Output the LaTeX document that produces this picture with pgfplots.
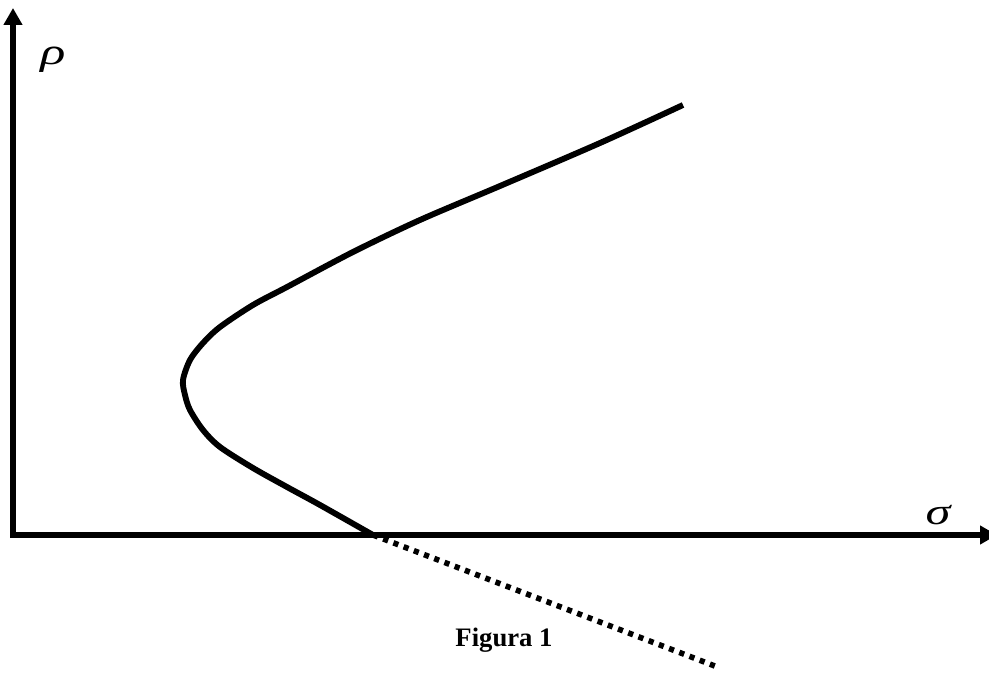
\documentclass[border=0pt]{standalone}
\usepackage{fontspec}
\setmainfont{Liberation Serif}
\usepackage{graphicx}
\usepackage{pgfplots}
\pgfplotsset{compat=1.18}
\usetikzlibrary{arrows.meta}

% upper and lower branch of the curve, rho against sigma
\pgfplotstableread{
x y
683 570
600 532
500 489
420 455
353 423
287 388
253 370
220 348
203 332
190 315
183 295
185 280
190 265
203 245
220 228
253 207
287 188
320 170
373 140
}\branch

\begin{document}
\begin{tikzpicture}
\begin{axis}[
  anchor=south west, at={(0,0)},
  scale only axis,
  width=741.75pt, height=506.25pt,
  xmin=0, xmax=989, ymin=0, ymax=675,
  hide axis,
]
% coordinate axes
\addplot[line width=4.2pt, -{Triangle[length=12.75pt, width=13.5pt]}]
  coordinates {(13,137) (13,667)};
\addplot[line width=4.2pt, -{Triangle[length=12.75pt, width=13.5pt]}]
  coordinates {(11,140) (997,140)};
% the curve
\addplot[line width=4.4pt, smooth, tension=0.5] table[x=x, y=y] {\branch};
% continuation below the axis
\addplot[line width=4.2pt, dash pattern=on 3.9pt off 4.3pt]
  coordinates {(373,140) (720,7)};
% labels
\node[anchor=base, font=\fontsize{28}{30}\selectfont\itshape] at (axis cs:53,610) {\scalebox{1.4}[1]{ρ}};
\node[anchor=base, font=\fontsize{28}{30}\selectfont\itshape] at (axis cs:938,150) {\scalebox{1.35}[1]{σ}};
\node[anchor=base, font=\fontsize{20}{22}\selectfont\bfseries] at (axis cs:504,29) {Figura 1};
\end{axis}
\pgfresetboundingbox
\path (0,0) rectangle (741.75pt,506.25pt);
\end{tikzpicture}
\end{document}
